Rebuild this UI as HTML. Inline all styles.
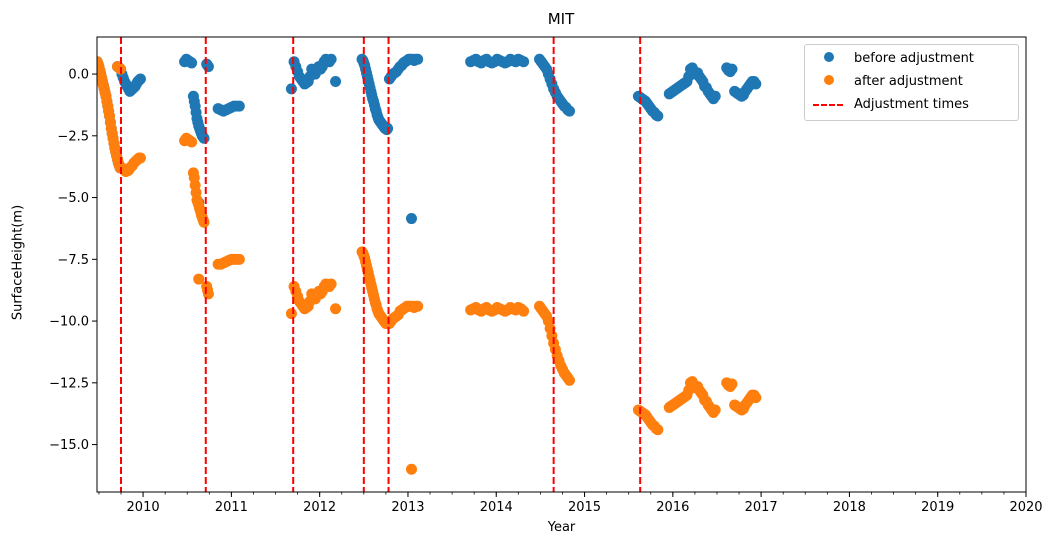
<!DOCTYPE html>
<html><head><meta charset="utf-8"><style>
body{margin:0;background:#fff;}
svg{display:block;font-family:"DejaVu Sans","Liberation Sans",sans-serif;}
</style></head><body>
<svg id="chart" width="1058" height="550"></svg>
<script>
const xTicks=[2010,2011,2012,2013,2014,2015,2016,2017,2018,2019,2020];
const yTicks=[0,-2.5,-5,-7.5,-10,-12.5,-15];
const yTickLabels=["0.0","−2.5","−5.0","−7.5","−10.0","−12.5","−15.0"];
const adjustTimes=[2009.75,2010.71,2011.70,2012.50,2012.78,2014.65,2015.63];
const times=[
2009.48,2009.49,2009.50,2009.51,2009.52,2009.53,2009.54,2009.55,2009.56,2009.57,2009.58,2009.59,2009.60,2009.61,2009.62,2009.63,2009.64,2009.65,2009.66,2009.67,2009.68,2009.69,2009.70,2009.71,2009.72,2009.73,2009.74,2009.71,2009.73,2009.745,
2009.76,2009.775,2009.79,2009.805,2009.82,2009.835,2009.85,2009.865,2009.88,2009.895,2009.91,2009.925,2009.94,2009.955,2009.97,
2010.47,2010.49,2010.51,2010.53,2010.55,2010.57,2010.58,2010.59,2010.60,2010.61,2010.62,2010.63,2010.64,2010.65,2010.66,2010.67,2010.68,2010.69,2010.63,2010.72,2010.73,2010.74,
2010.85,2010.88,2010.91,2010.94,2010.97,2011.00,2011.03,2011.06,2011.09,
2011.68,2011.71,2011.73,2011.75,2011.77,2011.79,2011.81,2011.83,2011.85,2011.87,2011.89,2011.91,2011.93,2011.95,2011.97,2011.99,2012.01,2012.03,2012.05,2012.07,2012.09,2012.11,2012.13,2012.18,
2012.48,2012.49,2012.50,2012.51,2012.52,2012.53,2012.54,2012.55,2012.56,2012.57,2012.58,2012.59,2012.60,2012.61,2012.62,2012.63,2012.64,2012.65,2012.66,2012.67,2012.68,2012.69,2012.70,2012.71,2012.72,2012.73,2012.74,2012.75,2012.76,2012.77,
2012.79,2012.81,2012.83,2012.85,2012.87,2012.89,2012.91,2012.93,2012.95,2012.97,2012.99,2013.01,2013.03,2013.05,2013.07,2013.09,2013.11,2013.04,
2013.71,2013.74,2013.77,2013.80,2013.83,2013.86,2013.89,2013.92,2013.95,2013.98,2014.01,2014.04,2014.07,2014.10,2014.13,2014.16,2014.19,2014.22,2014.25,2014.28,2014.31,
2014.49,2014.51,2014.53,2014.55,2014.57,2014.59,2014.61,2014.63,2014.65,2014.67,2014.69,2014.71,2014.73,2014.75,2014.77,2014.79,2014.81,2014.83,
2015.61,2015.63,2015.65,2015.67,2015.69,2015.71,2015.73,2015.75,2015.77,2015.79,2015.81,2015.83,
2015.96,2015.98,2016.00,2016.02,2016.04,2016.06,2016.08,2016.10,2016.12,2016.14,2016.16,2016.18,2016.20,2016.22,2016.24,2016.26,2016.28,2016.30,2016.32,2016.34,2016.36,2016.38,2016.40,2016.42,2016.44,2016.46,2016.48,
2016.61,2016.63,2016.65,2016.67,2016.70,2016.72,2016.74,2016.76,2016.78,2016.80,2016.82,2016.84,2016.86,2016.88,2016.90,2016.92,2016.94];
const before=[
0.5,0.4,0.3,0.15,0.0,-0.15,-0.3,-0.45,-0.6,-0.75,-0.9,-1.1,-1.3,-1.5,-1.7,-1.95,-2.2,-2.4,-2.6,-2.8,-3.0,-3.15,-3.3,-3.45,-3.6,-3.7,-3.8,0.3,0.25,0.2,
0.0,-0.15,-0.3,-0.4,-0.5,-0.6,-0.7,-0.65,-0.6,-0.55,-0.5,-0.4,-0.3,-0.25,-0.2,
0.5,0.6,0.55,0.5,0.45,-0.9,-1.1,-1.3,-1.55,-1.8,-1.95,-2.1,-2.2,-2.3,-2.4,-2.5,-2.55,-2.6,-5.2,0.4,0.35,0.3,
-1.4,-1.45,-1.5,-1.45,-1.4,-1.35,-1.3,-1.3,-1.3,
-0.6,0.5,0.3,0.1,-0.1,-0.2,-0.3,-0.4,-0.35,-0.3,-0.1,0.2,0.1,0.0,0.2,0.3,0.2,0.3,0.5,0.6,0.55,0.5,0.6,-0.3,
0.6,0.55,0.45,0.35,0.2,0.05,-0.1,-0.25,-0.4,-0.55,-0.7,-0.85,-1.0,-1.1,-1.25,-1.4,-1.5,-1.65,-1.75,-1.85,-1.9,-1.95,-2.0,-2.05,-2.1,-2.15,-2.2,-2.2,-2.25,-2.2,
-0.2,-0.1,0.0,0.05,0.1,0.2,0.3,0.35,0.45,0.5,0.55,0.6,0.6,0.6,0.55,0.6,0.6,-5.85,
0.5,0.55,0.6,0.5,0.45,0.55,0.6,0.5,0.45,0.5,0.6,0.55,0.5,0.45,0.5,0.6,0.55,0.5,0.6,0.55,0.5,
0.6,0.5,0.4,0.3,0.2,0.0,-0.2,-0.4,-0.6,-0.75,-0.9,-1.0,-1.1,-1.2,-1.3,-1.35,-1.45,-1.5,
-0.9,-0.95,-1.0,-1.05,-1.1,-1.2,-1.3,-1.4,-1.5,-1.55,-1.65,-1.7,
-0.8,-0.75,-0.7,-0.65,-0.6,-0.55,-0.5,-0.45,-0.4,-0.35,-0.3,-0.1,0.2,0.25,0.1,0.0,0.05,-0.1,-0.2,-0.3,-0.5,-0.55,-0.7,-0.8,-0.9,-1.0,-0.9,
0.25,0.15,0.1,0.2,-0.7,-0.75,-0.8,-0.85,-0.9,-0.85,-0.7,-0.6,-0.5,-0.4,-0.3,-0.3,-0.4];
const after=[
0.5,0.4,0.3,0.15,0.0,-0.15,-0.3,-0.45,-0.6,-0.75,-0.9,-1.1,-1.3,-1.5,-1.7,-1.95,-2.2,-2.4,-2.6,-2.8,-3.0,-3.15,-3.3,-3.45,-3.6,-3.7,-3.8,0.3,0.25,0.2,
-3.8,-3.85,-3.9,-3.95,-3.9,-3.9,-3.8,-3.75,-3.7,-3.6,-3.55,-3.5,-3.45,-3.4,-3.4,
-2.7,-2.6,-2.65,-2.7,-2.75,-4.0,-4.2,-4.5,-4.8,-5.1,-5.2,-5.3,-5.45,-5.55,-5.7,-5.8,-5.9,-6.0,-8.3,-8.6,-8.75,-8.9,
-7.7,-7.7,-7.65,-7.6,-7.55,-7.5,-7.5,-7.5,-7.5,
-9.7,-8.6,-8.8,-9.0,-9.2,-9.3,-9.4,-9.5,-9.45,-9.4,-9.2,-8.9,-9.0,-9.1,-8.9,-8.8,-8.9,-8.8,-8.6,-8.5,-8.55,-8.6,-8.5,-9.5,
-7.2,-7.25,-7.35,-7.45,-7.6,-7.75,-7.9,-8.05,-8.2,-8.35,-8.5,-8.65,-8.8,-8.95,-9.1,-9.25,-9.35,-9.5,-9.6,-9.7,-9.75,-9.8,-9.85,-9.9,-9.95,-10.0,-10.05,-10.1,-10.1,-10.1,
-10.1,-10.0,-9.9,-9.85,-9.8,-9.75,-9.6,-9.55,-9.5,-9.45,-9.4,-9.4,-9.4,-9.4,-9.45,-9.4,-9.4,-16.0,
-9.55,-9.5,-9.45,-9.55,-9.6,-9.5,-9.45,-9.55,-9.6,-9.55,-9.45,-9.5,-9.55,-9.6,-9.55,-9.45,-9.5,-9.55,-9.45,-9.5,-9.6,
-9.4,-9.5,-9.6,-9.7,-9.8,-10.0,-10.3,-10.6,-10.9,-11.15,-11.4,-11.6,-11.8,-11.95,-12.1,-12.2,-12.3,-12.4,
-13.6,-13.65,-13.7,-13.75,-13.8,-13.9,-14.0,-14.1,-14.2,-14.25,-14.35,-14.4,
-13.5,-13.45,-13.4,-13.35,-13.3,-13.25,-13.2,-13.15,-13.1,-13.05,-13.0,-12.8,-12.5,-12.45,-12.6,-12.7,-12.65,-12.8,-12.9,-13.0,-13.2,-13.25,-13.4,-13.5,-13.6,-13.7,-13.6,
-12.5,-12.6,-12.65,-12.55,-13.4,-13.45,-13.5,-13.55,-13.6,-13.55,-13.4,-13.3,-13.2,-13.1,-13.0,-13.0,-13.1];

const NS="http://www.w3.org/2000/svg";
const svg=document.getElementById('chart');
const L=97,R=1026,T=37,B=492;
const xMin=2009.478,xMax=2020.0,yMin=-16.92,yMax=1.5;
const xs=v=>L+(v-xMin)/(xMax-xMin)*(R-L);
const ys=v=>T+(yMax-v)/(yMax-yMin)*(B-T);
function mk(tag,attrs,parent){const e=document.createElementNS(NS,tag);for(const k in attrs)e.setAttribute(k,attrs[k]);(parent||svg).appendChild(e);return e;}

const clip=mk('clipPath',{id:'clp'});mk('rect',{x:L,y:T,width:R-L,height:B-T},clip);
const plot=mk('g',{'clip-path':'url(#clp)'});



const gB=mk('g',{fill:'#1f77b4'},plot);


times.forEach((t,i)=>{const c=mk('circle',{cx:xs(t),cy:ys(before[i]),r:5.5},gB);

});
const gA=mk('g',{fill:'#ff7f0e'},plot);


times.forEach((t,i)=>{const c=mk('circle',{cx:xs(t),cy:ys(after[i]),r:5.5},gA);

});
adjustTimes.forEach(t=>{const l=mk('line',{x1:xs(t),x2:xs(t),y1:T,y2:B,stroke:'#ff0000','stroke-width':2,'stroke-dasharray':'7,3'},plot);

});

const frame=mk('rect',{x:L,y:T,width:R-L,height:B-T,fill:'none',stroke:'#000','stroke-width':1});



for(let m=Math.ceil(xMin*4);m<=xMax*4;m++){const x=xs(m/4);mk('line',{x1:x,x2:x,y1:B,y2:B+2.5,stroke:'#000','stroke-width':0.8});}
xTicks.forEach(v=>{const x=xs(v);mk('line',{x1:x,x2:x,y1:B,y2:B+5,stroke:'#000','stroke-width':1});
const tx=mk('text',{x:x,y:B+19,'text-anchor':'middle','font-size':13});tx.textContent=v;

});
yTicks.forEach((v,i)=>{const y=ys(v);mk('line',{x1:L-5,x2:L,y1:y,y2:y,stroke:'#000','stroke-width':1});
const tx=mk('text',{x:L-8,y:y+4.5,'text-anchor':'end','font-size':13});tx.textContent=yTickLabels[i];

});
</script>
<div style="position:absolute;left:0;top:0;width:1058px;height:550px;pointer-events:none;font-family:'DejaVu Sans','Liberation Sans',sans-serif;">
<div style="position:absolute;left:0;width:1122px;top:10px;text-align:center;font-size:15px;">MIT</div>
<div style="position:absolute;left:0;width:1123px;top:520px;text-align:center;font-size:13px;">Year</div>
<div style="position:absolute;left:-42px;top:255px;width:120px;text-align:center;font-size:13px;transform:rotate(-90deg);">SurfaceHeight(m)</div>
<div style="position:absolute;left:804px;top:44px;width:213px;height:75px;border:1px solid #ccc;border-radius:3px;background:#fff;font-size:13px;">
 <div style="position:absolute;left:8px;top:6px;white-space:nowrap;"><span style="display:inline-block;width:10px;height:10px;border-radius:50%;background:#1f77b4;margin:0 20px 0 11px;"></span>before adjustment</div>
 <div style="position:absolute;left:8px;top:29px;white-space:nowrap;"><span style="display:inline-block;width:10px;height:10px;border-radius:50%;background:#ff7f0e;margin:0 20px 0 11px;"></span>after adjustment</div>
 <div style="position:absolute;left:8px;top:52px;white-space:nowrap;"><span style="display:inline-block;width:30px;height:0;border-top:2px dashed #ff0000;vertical-align:middle;margin-right:11px;"></span>Adjustment times</div>
</div>
</div>
</body></html>
